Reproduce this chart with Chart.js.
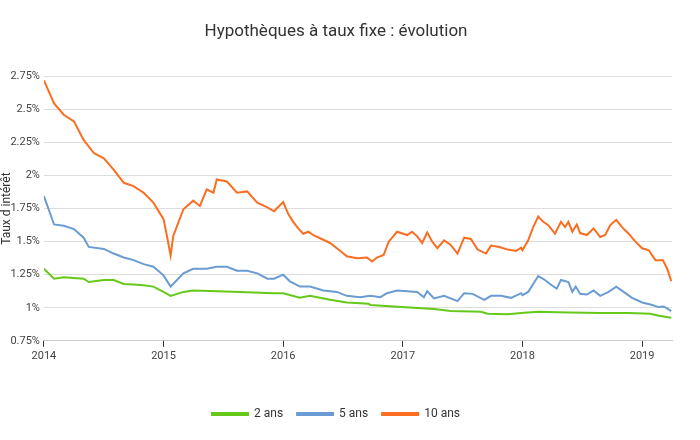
<!DOCTYPE html>
<html>
<head>
<meta charset="utf-8">
<script src="https://cdn.jsdelivr.net/npm/chart.js@4"></script>
<style>body{margin:0;background:#fff}</style>
</head>
<body>
<canvas id="taux" width="700" height="440"></canvas>
<script>
// 10 ans
const dates10 = [2014.00, 2014.085, 2014.166, 2014.251, 2014.332, 2014.417, 2014.501, 2014.583, 2014.668, 2014.749, 2014.834, 2014.915,
  2015.00, 2015.028, 2015.059, 2015.082, 2015.166, 2015.248, 2015.304, 2015.361, 2015.417, 2015.445, 2015.530, 2015.614, 2015.699, 2015.783, 2015.868, 2015.924,
  2016.00, 2016.042, 2016.084, 2016.126, 2016.168, 2016.210, 2016.252, 2016.322, 2016.392, 2016.462, 2016.532, 2016.616, 2016.700, 2016.742, 2016.784, 2016.840, 2016.882, 2016.952,
  2017.036, 2017.078, 2017.120, 2017.162, 2017.204, 2017.246, 2017.289, 2017.345, 2017.401, 2017.457, 2017.513, 2017.569, 2017.625, 2017.695, 2017.737, 2017.807, 2017.877, 2017.947, 2017.989,
  2018.00, 2018.048, 2018.090, 2018.132, 2018.174, 2018.216, 2018.272, 2018.322, 2018.356, 2018.384, 2018.417, 2018.454, 2018.482, 2018.538, 2018.594, 2018.650, 2018.692, 2018.734, 2018.784, 2018.832, 2018.888, 2018.944,
  2019.00, 2019.056, 2019.112, 2019.174, 2019.210, 2019.244];
const taux10 = [2.72, 2.545, 2.46, 2.41, 2.27, 2.17, 2.13, 2.045, 1.945, 1.92, 1.87, 1.795,
  1.67, 1.545, 1.395, 1.545, 1.745, 1.81, 1.77, 1.895, 1.87, 1.97, 1.955, 1.87, 1.88, 1.795, 1.76, 1.73,
  1.80, 1.71, 1.65, 1.60, 1.56, 1.575, 1.55, 1.52, 1.49, 1.44, 1.39, 1.375, 1.38, 1.35, 1.38, 1.40, 1.50, 1.575,
  1.55, 1.575, 1.54, 1.49, 1.57, 1.50, 1.45, 1.51, 1.475, 1.41, 1.53, 1.52, 1.44, 1.41, 1.47, 1.46, 1.44, 1.43, 1.455,
  1.435, 1.51, 1.61, 1.69, 1.65, 1.625, 1.56, 1.65, 1.61, 1.65, 1.575, 1.63, 1.565, 1.55, 1.60, 1.535, 1.55, 1.625, 1.665, 1.61, 1.56, 1.50,
  1.45, 1.435, 1.36, 1.36, 1.295, 1.20];

// 5 ans
const dates5 = [2014.00, 2014.085, 2014.166, 2014.251, 2014.332, 2014.375, 2014.501, 2014.583, 2014.668, 2014.749, 2014.834, 2014.915,
  2015.00, 2015.059, 2015.166, 2015.248, 2015.361, 2015.445, 2015.530, 2015.614, 2015.699, 2015.783, 2015.868, 2015.924,
  2016.00, 2016.056, 2016.140, 2016.224, 2016.336, 2016.448, 2016.532, 2016.644, 2016.728, 2016.812, 2016.868, 2016.952,
  2017.036, 2017.120, 2017.176, 2017.204, 2017.261, 2017.345, 2017.457, 2017.513, 2017.583, 2017.681, 2017.737, 2017.821, 2017.905, 2017.989,
  2018.00, 2018.048, 2018.090, 2018.132, 2018.188, 2018.244, 2018.286, 2018.322, 2018.384, 2018.417, 2018.445, 2018.482, 2018.538, 2018.594, 2018.650, 2018.720, 2018.784, 2018.846, 2018.916,
  2019.00, 2019.070, 2019.140, 2019.182, 2019.244];
const taux5 = [1.845, 1.63, 1.62, 1.595, 1.53, 1.46, 1.445, 1.41, 1.38, 1.36, 1.33, 1.31,
  1.245, 1.16, 1.26, 1.295, 1.295, 1.31, 1.31, 1.28, 1.28, 1.26, 1.22, 1.22,
  1.25, 1.20, 1.16, 1.16, 1.13, 1.12, 1.09, 1.08, 1.09, 1.08, 1.11, 1.13,
  1.125, 1.12, 1.08, 1.125, 1.07, 1.09, 1.05, 1.11, 1.105, 1.06, 1.09, 1.09, 1.075, 1.11,
  1.095, 1.12, 1.18, 1.24, 1.21, 1.17, 1.145, 1.21, 1.195, 1.12, 1.16, 1.105, 1.10, 1.13, 1.09, 1.12, 1.16, 1.12, 1.075,
  1.04, 1.025, 1.005, 1.01, 0.975];

// 2 ans
const dates2 = [2014.00, 2014.085, 2014.166, 2014.251, 2014.332, 2014.375, 2014.501, 2014.583, 2014.668, 2014.749, 2014.834, 2014.915,
  2015.00, 2015.059, 2015.166, 2015.248, 2015.642, 2015.924,
  2016.00, 2016.140, 2016.224, 2016.392, 2016.532, 2016.714, 2016.728, 2017.092, 2017.261, 2017.401, 2017.653, 2017.709, 2017.877, 2017.989,
  2018.132, 2018.384, 2018.664, 2018.888, 2019.070, 2019.140, 2019.244];
const taux2 = [1.295, 1.22, 1.23, 1.225, 1.22, 1.195, 1.21, 1.21, 1.18, 1.175, 1.17, 1.16,
  1.12, 1.09, 1.12, 1.13, 1.12, 1.11,
  1.11, 1.075, 1.09, 1.06, 1.04, 1.03, 1.02, 1.0, 0.99, 0.975, 0.97, 0.955, 0.95, 0.96,
  0.97, 0.965, 0.96, 0.96, 0.955, 0.94, 0.925];

const yTicks = [0.75, 1, 1.25, 1.5, 1.75, 2, 2.25, 2.5, 2.75];
const xTicks = [2014, 2015, 2016, 2017, 2018, 2019];

function points(xs, ys) {
  return xs.map(function(x, i) { return { x: x, y: ys[i] }; });
}

function serie(label, xs, ys, color) {
  return {
    label: label,
    data: points(xs, ys),
    borderColor: color,
    backgroundColor: color,
    borderWidth: 2,
    pointRadius: 0,
    tension: 0,
    fill: false
  };
}

Chart.defaults.font.family = "Roboto";
Chart.defaults.color = "#444";

new Chart(document.getElementById("taux").getContext("2d"), {
  type: "line",
  data: {
    datasets: [
      serie("2 ans", dates2, taux2, "#66c91a"),
      serie("5 ans", dates5, taux5, "#6a9bd3"),
      serie("10 ans", dates10, taux10, "#fb6d20")
    ]
  },
  options: {
    responsive: false,
    animation: false,
    layout: { padding: { left: 0, right: 28, top: 10, bottom: 10 } },
    scales: {
      x: {
        type: "linear",
        min: 2014,
        max: 2019.25,
        afterBuildTicks: function(axis) {
          axis.ticks = xTicks.map(function(v) { return { value: v }; });
        },
        afterFit: function(axis) { axis.height += 28; },
        ticks: {
          font: { size: 11 },
          color: "#444",
          maxRotation: 0,
          callback: function(value) { return String(value); }
        },
        grid: { drawOnChartArea: false, tickLength: 6, color: "#333" },
        border: { color: "#ccc" }
      },
      y: {
        min: 0.75,
        max: 2.75,
        afterBuildTicks: function(axis) {
          axis.ticks = yTicks.map(function(v) { return { value: v }; });
        },
        afterFit: function(axis) { axis.width -= 8; },
        ticks: {
          font: { size: 11 },
          color: "#444",
          padding: 4,
          callback: function(value) { return value + "%"; }
        },
        grid: { color: "#ddd", drawTicks: false },
        border: { display: false },
        title: { display: true, text: "Taux d intérêt", font: { size: 12 }, color: "#333", padding: 0 }
      }
    },
    plugins: {
      title: {
        display: true,
        text: "Hypothèques à taux fixe : évolution",
        font: { size: 17, weight: "normal" },
        color: "#333",
        padding: { top: 12, bottom: 34 }
      },
      legend: {
        position: "bottom",
        labels: { boxWidth: 36, boxHeight: 2, padding: 14, font: { size: 12 }, color: "#333" }
      },
      tooltip: { enabled: false }
    }
  }
});
</script>
</body>
</html>
